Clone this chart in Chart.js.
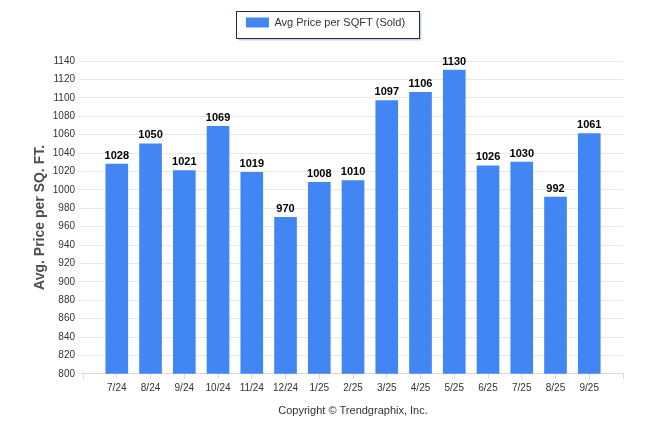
<!DOCTYPE html>
<html>
<head>
<meta charset="utf-8">
<script src="https://cdn.jsdelivr.net/npm/chart.js@4"></script>
<style>
  body { margin: 0; background: #fff; }
  #wrap { width: 646px; height: 434px; }
</style>
</head>
<body>
<div id="wrap"><canvas id="barChart"></canvas></div>
<script>
const months = ['7/24', '8/24', '9/24', '10/24', '11/24', '12/24', '1/25', '2/25', '3/25', '4/25', '5/25', '6/25', '7/25', '8/25', '9/25']
const avgPrice = [1028, 1050, 1021, 1069, 1019, 970, 1008, 1010, 1097, 1106, 1130, 1026, 1030, 992, 1061]
const seriesName = 'Avg Price per SQFT (Sold)'

const fontFamily = '"Liberation Sans", Arial, sans-serif'

// box with shadow around the legend
const legendBox = {
    id: 'legendBox',
    beforeInit: (chart) => {
        const fit = chart.legend.fit
        chart.legend.fit = function () {
            fit.bind(chart.legend)()
            this.height += 23
        }
    },
    afterDraw: (chart) => {
        const box = chart.legend.legendHitBoxes[0]
        if (!box) return
        const ctx = chart.ctx
        const x = Math.round(box.left - 10) + 0.5
        const y = 11.5
        const w = Math.round(box.width + 24)
        const h = 27
        ctx.save()
        ctx.fillStyle = 'rgba(0,0,0,0.18)'
        ctx.fillRect(x + 2, y + 2, w, h)
        ctx.fillStyle = '#fff'
        ctx.fillRect(x, y, w, h)
        ctx.strokeStyle = '#1c2a4a'
        ctx.lineWidth = 1
        ctx.strokeRect(x, y, w, h)
        ctx.restore()
        chart.legend.draw()
    }
}

// value labels above bars
const barLabels = {
    id: 'barLabels',
    afterDatasetsDraw: (chart) => {
        const ctx = chart.ctx
        const meta = chart.getDatasetMeta(0)
        ctx.save()
        ctx.font = 'bold 11px ' + fontFamily
        ctx.fillStyle = '#000'
        ctx.textAlign = 'center'
        ctx.textBaseline = 'bottom'
        meta.data.forEach((bar, i) => {
            ctx.fillText(avgPrice[i], bar.x, bar.y - 3)
        })
        ctx.restore()
    }
}

new Chart('barChart', {
    type: 'bar',
    data: {
        datasets: [{
            label: seriesName,
            backgroundColor: '#4286f4',
            borderWidth: 0,
            barThickness: 22,
            data: avgPrice.map((v, i) => ({ x: i, y: v }))
        }]
    },
    options: {
        responsive: true,
        maintainAspectRatio: false,
        animation: false,
        layout: {
            padding: { left: 28, right: 23, top: 7, bottom: 12 }
        },
        plugins: {
            legend: {
                display: true,
                position: 'top',
                labels: {
                    boxWidth: 23,
                    boxHeight: 10,
                    color: '#333',
                    font: { family: fontFamily, size: 11 }
                }
            },
            tooltip: { enabled: false }
        },
        scales: {
            x: {
                type: 'linear',
                min: -1,
                max: 15,
                offset: false,
                ticks: {
                    stepSize: 1,
                    autoSkip: false,
                    maxRotation: 0,
                    color: '#333',
                    font: { family: fontFamily, size: 10 },
                    callback: (v) => months[v] || ''
                },
                grid: {
                    offset: false,
                    drawOnChartArea: false,
                    tickLength: 5,
                    color: '#d8d8d8'
                },
                border: { color: '#d8d8d8' },
                title: {
                    display: true,
                    text: 'Copyright © Trendgraphix, Inc.',
                    color: '#333',
                    font: { family: fontFamily, size: 11 },
                    padding: { top: 8 }
                }
            },
            y: {
                min: 800,
                max: 1140,
                ticks: {
                    stepSize: 20,
                    color: '#333',
                    padding: 3,
                    font: { family: fontFamily, size: 10 },
                    callback: (v) => String(v)
                },
                grid: {
                    color: '#e8e8e8',
                    tickLength: 5
                },
                border: { display: false },
                title: {
                    display: true,
                    text: 'Avg. Price per SQ. FT.',
                    color: '#4d4d4d',
                    font: { family: fontFamily, size: 14, weight: 'bold' },
                    padding: { top: 4, bottom: 1 }
                }
            }
        }
    },
    plugins: [legendBox, barLabels]
});
</script>
</body>
</html>
